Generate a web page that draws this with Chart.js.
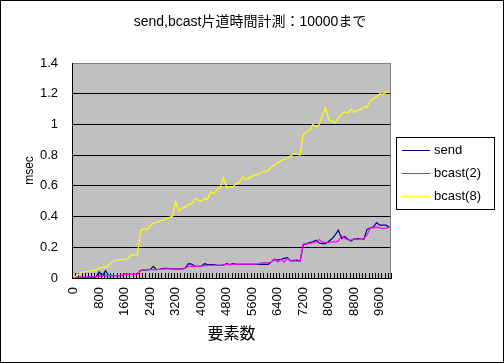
<!DOCTYPE html>
<html><head><meta charset="utf-8">
<script src="https://cdn.jsdelivr.net/npm/chart.js@4.4.1/dist/chart.umd.min.js"></script>
<style>html,body{margin:0;padding:0;background:#fff;}#wrap{width:504px;height:363px;}</style>
</head><body><div id="wrap"><canvas id="c" width="504" height="363"></canvas></div>
<script>
const chartTitle = 'send,bcast片道時間計測：10000まで';
const xAxisTitle = '要素数';
const yAxisTitle = 'msec';
const seriesNames = ['send', 'bcast(2)', 'bcast(8)'];
const seriesColors = ['#000080', '#FF00FF', '#FFFF00'];

const elementCounts = [0,100,200,300,400,500,600,700,800,900,1000,1100,1200,1300,1400,1500,1600,1700,1800,1900,
2000,2100,2200,2300,2400,2500,2600,2700,2800,2900,3000,3100,3200,3300,3400,3500,3600,3700,3800,3900,
4000,4100,4200,4300,4400,4500,4600,4700,4800,4900,5000,5100,5200,5300,5400,5500,5600,5700,5800,5900,
6000,6100,6200,6300,6400,6500,6600,6700,6800,6900,7000,7100,7200,7300,7400,7500,7600,7700,7800,7900,
8000,8100,8200,8300,8400,8500,8600,8700,8800,8900,9000,9100,9200,9300,9400,9500,9600,9700,9800,9900];
const xTickLabels = [0,800,1600,2400,3200,4000,4800,5600,6400,7200,8000,8800,9600];
const yTickLabels = [0,0.2,0.4,0.6,0.8,1,1.2,1.4];

const sendMs = [0.002,0.005,0.005,0.005,0.005,0.005,0.005,0.006,0.04,0.012,
0.048,0.015,0.015,0.015,0.015,0.015,0.024,0.024,0.024,0.024,
0.025,0.05,0.052,0.052,0.055,0.076,0.055,0.057,0.062,0.063,
0.062,0.06,0.06,0.06,0.06,0.065,0.094,0.09,0.078,0.076,
0.077,0.094,0.087,0.087,0.087,0.083,0.083,0.085,0.094,0.086,
0.093,0.089,0.089,0.089,0.089,0.089,0.089,0.089,0.089,0.089,
0.089,0.089,0.105,0.12,0.118,0.122,0.128,0.133,0.111,0.115,
0.113,0.11,0.218,0.222,0.23,0.236,0.246,0.228,0.224,0.224,
0.24,0.255,0.28,0.312,0.257,0.27,0.252,0.241,0.257,0.255,
0.257,0.252,0.317,0.326,0.333,0.36,0.344,0.344,0.344,0.33];

const bcast2Ms = [0.003,0.005,0.005,0.005,0.006,0.006,0.007,0.01,0.014,0.015,
0.015,0.015,0.015,0.015,0.015,0.016,0.024,0.024,0.024,0.024,
0.025,0.05,0.052,0.052,0.055,0.055,0.055,0.057,0.058,0.06,
0.06,0.06,0.06,0.06,0.06,0.062,0.076,0.076,0.076,0.076,
0.077,0.08,0.083,0.083,0.083,0.083,0.083,0.085,0.089,0.09,
0.089,0.089,0.09,0.09,0.09,0.09,0.09,0.09,0.092,0.098,
0.1,0.098,0.104,0.126,0.104,0.12,0.104,0.126,0.115,0.11,
0.12,0.11,0.22,0.224,0.226,0.228,0.235,0.25,0.235,0.23,
0.232,0.235,0.235,0.24,0.275,0.257,0.25,0.246,0.257,0.25,
0.257,0.257,0.28,0.326,0.326,0.333,0.326,0.322,0.326,0.328];

const bcast8Ms = [0.005,0.015,0.03,0.04,0.043,0.045,0.048,0.055,0.065,0.07,
0.068,0.085,0.105,0.115,0.12,0.12,0.12,0.125,0.148,0.15,
0.15,0.31,0.32,0.315,0.34,0.355,0.365,0.372,0.376,0.385,
0.395,0.402,0.496,0.437,0.455,0.463,0.479,0.48,0.518,0.508,
0.5,0.518,0.513,0.561,0.55,0.577,0.59,0.652,0.588,0.595,
0.595,0.616,0.62,0.66,0.64,0.652,0.663,0.67,0.676,0.69,
0.693,0.7,0.724,0.735,0.75,0.763,0.774,0.778,0.794,0.807,
0.807,0.8,0.935,0.953,0.963,1.0,0.985,1.0,1.06,1.11,
1.03,1.02,1.011,1.04,1.07,1.08,1.076,1.098,1.078,1.093,
1.098,1.115,1.111,1.157,1.168,1.18,1.2,1.196,1.21,1.21];

const FONT = '"Liberation Sans", "Noto Sans CJK JP", sans-serif';

const decorPlugin = {
  id: 'decor',
  beforeDraw(chart) {
    const {ctx, chartArea: a} = chart;
    ctx.save();
    ctx.fillStyle = '#fff';
    ctx.fillRect(0, 0, chart.width, chart.height);
    ctx.fillStyle = '#C0C0C0';
    ctx.fillRect(a.left, a.top, a.right - a.left, a.bottom - a.top);
    ctx.restore();
  },
  beforeDatasetsDraw(chart) {
    const {ctx, chartArea: a, scales} = chart;
    const xs = scales.x;
    const n = chart.data.labels.length;
    const half = (xs.getPixelForValue(1) - xs.getPixelForValue(0)) / 2;
    ctx.save();
    ctx.strokeStyle = '#000';
    ctx.lineWidth = 1;
    ctx.beginPath();
    for (let k = 0; k <= n; k++) {
      const px = Math.round(xs.getPixelForValue(k) - half) + 0.5;
      ctx.moveTo(px, a.bottom);
      ctx.lineTo(px, a.bottom - 5);
    }
    ctx.stroke();
    ctx.strokeStyle = '#808080';
    ctx.beginPath();
    ctx.moveTo(Math.round(a.right) - 0.5, a.top);
    ctx.lineTo(Math.round(a.right) - 0.5, a.bottom);
    ctx.stroke();
    ctx.restore();
  },
  afterDraw(chart) {
    const {ctx} = chart;
    ctx.save();
    ctx.fillStyle = '#000';
    ctx.font = '14px ' + FONT;
    ctx.textAlign = 'center';
    ctx.textBaseline = 'middle';
    ctx.fillText(chartTitle, 250, 22);
    // legend
    ctx.fillStyle = '#fff';
    ctx.fillRect(396, 137, 99, 73);
    ctx.strokeStyle = '#000';
    ctx.lineWidth = 1;
    ctx.strokeRect(396.5, 137.5, 98, 72);
    const ys = [150.5, 173.5, 196.5];
    ctx.font = '13px ' + FONT;
    ctx.textAlign = 'left';
    seriesNames.forEach((name, i) => {
      ctx.strokeStyle = seriesColors[i];
      ctx.lineWidth = 1;
      ctx.beginPath();
      ctx.moveTo(402, ys[i]);
      ctx.lineTo(430, ys[i]);
      ctx.stroke();
      ctx.fillStyle = '#000';
      ctx.fillText(name, 434, ys[i]);
    });
    ctx.strokeStyle = '#000';
    ctx.strokeRect(0.5, 0.5, chart.width - 1, chart.height - 1);
    ctx.restore();
  }
};

new Chart(document.getElementById('c'), {
  type: 'line',
  data: {
    labels: elementCounts.map(String),
    datasets: [
      {label: seriesNames[0], data: sendMs, borderColor: seriesColors[0], backgroundColor: seriesColors[0], order: 2},
      {label: seriesNames[1], data: bcast2Ms, borderColor: seriesColors[1], backgroundColor: seriesColors[1], order: 1},
      {label: seriesNames[2], data: bcast8Ms, borderColor: seriesColors[2], backgroundColor: seriesColors[2], order: 0}
    ]
  },
  options: {
    responsive: false,
    animation: false,
    devicePixelRatio: 1,
    layout: {padding: {top: 63, right: 113, bottom: 0, left: 0}},
    elements: {point: {radius: 0}, line: {borderWidth: 1.2, tension: 0}},
    plugins: {legend: {display: false}, title: {display: false}, tooltip: {enabled: false}},
    scales: {
      x: {
        type: 'category',
        offset: true,
        grid: {display: false, drawTicks: false},
        border: {display: true, color: '#000', width: 1},
        ticks: {
          autoSkip: false, minRotation: 90, maxRotation: 90, padding: 9,
          color: '#000', font: {size: 13, family: FONT},
          callback: function(v, i) {
            const lab = elementCounts[i];
            return xTickLabels.includes(lab) ? String(lab) : '';
          }
        },
        title: {display: true, text: xAxisTitle, color: '#000', font: {size: 16, family: FONT}, padding: {top: 0, bottom: 19}},
        afterFit(s) { s.height = 85; }
      },
      y: {
        min: 0, max: 1.4,
        afterBuildTicks(s) { s.ticks = yTickLabels.map(v => ({value: v})); },
        ticks: {
          padding: 14, color: '#000', font: {size: 13, family: FONT},
          callback: v => String(Math.round(v * 10) / 10)
        },
        grid: {
          drawTicks: false, lineWidth: 1,
          color: c => (c.tick && c.tick.value > 1.39) ? '#808080' : '#000'
        },
        border: {display: true, color: '#000', width: 1},
        title: {display: true, text: yAxisTitle, color: '#000', font: {size: 12, family: FONT}, padding: {top: 22, bottom: 0}},
        afterFit(s) { s.width = 72; }
      }
    }
  },
  plugins: [decorPlugin]
});
</script>
</body></html>
